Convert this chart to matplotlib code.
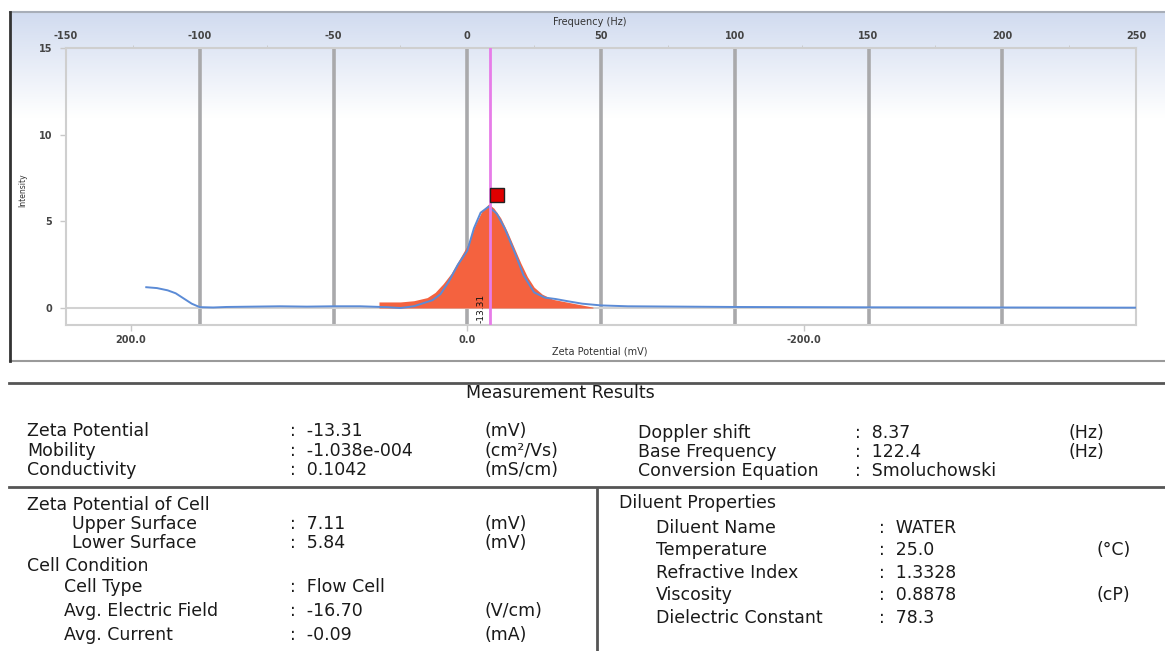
import numpy as np
import matplotlib
matplotlib.use("Agg")
import matplotlib.pyplot as plt
from matplotlib.lines import Line2D

W, H = 1165, 651

# ---------------------------------------------------------------
# dados
# ---------------------------------------------------------------
freq_lim = (-150, 250)
freq_ticks = [-150, -100, -50, 0, 50, 100, 150, 200, 250]
grid_freqs = [-100, -50, 0, 50, 100, 150, 200]
intensity_ticks = [0, 5, 10, 15]
zeta_ticks = [200.0, 0.0, -200.0]

# curva azul (espectro de frequência)
blue_freq = [-120, -116, -112, -109, -106, -103, -100, -95, -90, -80, -70, -60,
             -50, -40, -30, -25, -20, -16, -13, -10, -7, -3.5, 0, 2.5, 5, 8,
             11, 14, 17.5, 21, 25, 29, 33, 38, 43, 50, 60, 80, 100, 150, 200, 250]
blue_int = [1.2, 1.15, 1.02, 0.85, 0.55, 0.25, 0.05, 0.03, 0.06, 0.08, 0.1, 0.08,
            0.1, 0.1, 0.05, 0.0, 0.1, 0.3, 0.45, 0.8, 1.5, 2.5, 3.3, 4.6, 5.5, 5.85,
            5.45, 4.6, 3.3, 1.9, 0.9, 0.6, 0.52, 0.38, 0.25, 0.15, 0.1, 0.08, 0.06,
            0.04, 0.03, 0.02]

# distribuição (área laranja)
orange_freq = [-33, -25, -20, -15, -12, -9, -6, -3, 0, 3, 5.5, 8, 10, 12.5, 15,
               17.5, 20, 22.5, 25, 28, 32, 37, 42, 47]
orange_int = [0.35, 0.35, 0.42, 0.6, 0.9, 1.4, 2.0, 2.8, 3.6, 4.8, 5.6, 6.0, 5.75,
              5.2, 4.4, 3.5, 2.6, 1.8, 1.2, 0.8, 0.5, 0.35, 0.2, 0.05]

doppler_shift = 8.37      # Hz
zeta_potential = -13.31   # mV
peak_marker = (11.2, 6.5)
hz_to_mv = zeta_potential / doppler_shift

# tabela de resultados
meas_left = [("Zeta Potential", "-13.31", "(mV)"),
             ("Mobility", "-1.038e-004", "(cm²/Vs)"),
             ("Conductivity", "0.1042", "(mS/cm)")]
meas_right = [("Doppler shift", "8.37", "(Hz)"),
              ("Base Frequency", "122.4", "(Hz)"),
              ("Conversion Equation", "Smoluchowski", "")]
cell_surface = [("Upper Surface", "7.11", "(mV)"),
                ("Lower Surface", "5.84", "(mV)")]
cell_condition = [("Cell Type", "Flow Cell", ""),
                  ("Avg. Electric Field", "-16.70", "(V/cm)"),
                  ("Avg. Current", "-0.09", "(mA)")]
diluent = [("Diluent Name", "WATER", ""),
           ("Temperature", "25.0", "(°C)"),
           ("Refractive Index", "1.3328", ""),
           ("Viscosity", "0.8878", "(cP)"),
           ("Dielectric Constant", "78.3", "")]

# ---------------------------------------------------------------
fig = plt.figure(figsize=(W / 100, H / 100), dpi=100)
fig.patch.set_facecolor("white")


def fx(x):
    return x / W


def fy(y):
    return 1 - y / H


def ftxt(x, y, s, **kw):
    kw.setdefault("fontsize", 12.5)
    kw.setdefault("color", "#1a1a1a")
    fig.text(fx(x), fy(y), s, va="center", **kw)


def fline(xs, ys, color="#555555", lw=2.0):
    fig.add_artist(Line2D([fx(v) for v in xs], [fy(v) for v in ys],
                          color=color, lw=lw, transform=fig.transFigure))


# painel do gráfico com degradê
bg = fig.add_axes([fx(10), fy(361), fx(1165 - 10), (361 - 12) / H])
top = np.array([0.82, 0.86, 0.94])
t = np.clip(np.linspace(0, 1, 200) / 0.3, 0, 1)[:, None]
grad = top * (1 - t) + np.ones(3) * t
bg.imshow(grad[:, None, :], aspect="auto", extent=[0, 1, 0, 1])
bg.set_xticks([])
bg.set_yticks([])
for s in bg.spines.values():
    s.set_visible(False)
fline([10, 1165], [12, 12], "#a8aeb8", 1.5)
fline([10, 1165], [361, 361], "#9a9a9a", 1.5)
fline([10, 10], [12, 361], "#333333", 2.0)

# eixo principal (frequência) + eixo gêmeo (potencial zeta)
ax = fig.add_axes([fx(66), fy(325), fx(1136 - 66), (325 - 48) / H])
ax.set_facecolor("none")
ax2 = ax.twiny()

ax.set_xlim(*freq_lim)
ax.set_ylim(-0.98, 15)
for g in grid_freqs:
    ax.axvline(g, color="#a9a9ab", lw=2.6, zorder=1)
ax.axhline(0, color="#d2d2d2", lw=1.5, zorder=1)

ax.fill_between(orange_freq, 0, orange_int, color="#f4623f", lw=0, zorder=2)
ax.plot(blue_freq, blue_int, color="#5b8bd6", lw=1.4, zorder=3)
ax.axvline(doppler_shift, color="#e77ce8", lw=2.0, zorder=4)
ax.plot(*peak_marker, marker="s", ms=10, mfc="#e00000", mec="#222222", mew=1.0,
        zorder=5)
ax.annotate(f"{zeta_potential:.2f}", xy=(doppler_shift, 0), xytext=(-3, 0),
            textcoords="offset points", rotation=90, ha="right", va="center",
            fontsize=6.5, color="#111111", zorder=6)

ax.xaxis.tick_top()
ax.xaxis.set_label_position("top")
ax.set_xticks(freq_ticks)
ax.set_xticklabels([str(v) for v in freq_ticks])
ax.set_xticks(np.arange(-125, 250, 50), minor=True)
ax.tick_params(axis="x", which="major", length=0, pad=5, labelsize=7,
               colors="#444444", top=True, bottom=False, labeltop=True,
               labelbottom=False)
ax.tick_params(axis="x", which="minor", length=2, color="#c8c8c8", top=True,
               bottom=False)
ax.set_yticks(intensity_ticks)
ax.tick_params(axis="y", length=4, width=1, color="#c8c8c8", pad=6, labelsize=7,
               labelcolor="#444444")
for lab in ax.get_xticklabels() + ax.get_yticklabels():
    lab.set_fontweight("bold")
for s in ax.spines.values():
    s.set_color("#cfcfcf")
    s.set_linewidth(1.5)

ax2.set_xlim(freq_lim[0] * hz_to_mv, freq_lim[1] * hz_to_mv)
ax2.xaxis.tick_bottom()
ax2.set_xticks(zeta_ticks)
ax2.set_xticklabels([f"{v:.1f}" for v in zeta_ticks])
ax2.tick_params(axis="x", length=4, width=1, color="#c8c8c8", pad=3,
                labelsize=7, labelcolor="#444444", top=False, labeltop=False,
                bottom=True, labelbottom=True)
for lab in ax2.get_xticklabels():
    lab.set_fontweight("bold")
for s in ax2.spines.values():
    s.set_visible(False)

fig.text(fx(590), fy(22), "Frequency (Hz)", ha="center", va="center",
         fontsize=7, color="#333333")
fig.text(fx(600), fy(352), "Zeta Potential (mV)", ha="center", va="center",
         fontsize=7, color="#333333")
fig.text(fx(23), fy(190), "Intensity", rotation=90, ha="center", va="center",
         fontsize=5.5, color="#333333")

# ---------------------------------------------------------------
# tabela
# ---------------------------------------------------------------
fline([9, 1165], [383, 383])
fline([9, 1165], [487, 487])
fline([597, 597], [489, 651])

ftxt(560, 393, "Measurement Results", ha="center")


def rows(data, ys, x_lab, x_col, x_unit):
    for (lab, val, unit), y in zip(data, ys):
        ftxt(x_lab, y, lab)
        ftxt(x_col, y, ":  " + val)
        if unit:
            ftxt(x_unit, y, unit)


rows(meas_left, [431, 451, 470], 27, 290, 485)
rows(meas_right, [433, 452, 471], 638, 855, 1068)

ftxt(27, 505, "Zeta Potential of Cell")
rows(cell_surface, [524, 543], 72, 290, 485)
ftxt(27, 566, "Cell Condition")
rows(cell_condition, [587, 611, 635], 64, 290, 485)

ftxt(619, 503, "Diluent Properties")
rows(diluent, [528, 550, 573, 595, 618], 656, 879, 1097)

fig.savefig("out.png", dpi=100)
